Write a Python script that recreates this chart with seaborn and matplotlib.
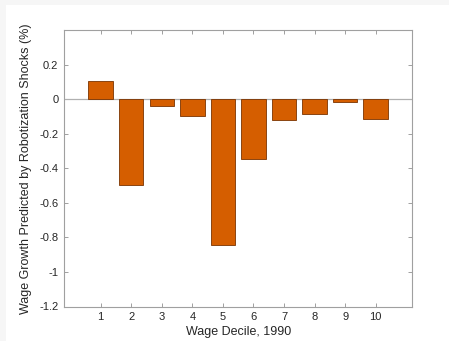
import matplotlib
matplotlib.use("Agg")
import matplotlib.pyplot as plt
import seaborn as sns
import pandas as pd
from matplotlib.patches import Rectangle

deciles = [1, 2, 3, 4, 5, 6, 7, 8, 9, 10]
growth = [0.107, -0.498, -0.038, -0.100, -0.843, -0.345, -0.118, -0.086, -0.014, -0.116]
yticks = [-1.2, -1.0, -0.8, -0.6, -0.4, -0.2, 0.0, 0.2]
ytick_labels = ["-1.2", "-1", "-0.8", "-0.6", "-0.4", "-0.2", "0", "0.2"]

sns.set_style("white")
plt.rcParams['font.family'] = ['Liberation Sans', 'DejaVu Sans']

fig = plt.figure(figsize=(4.49, 3.41), dpi=100, facecolor='#f6f6f6')
fig.patches.append(Rectangle((6/449, 0), 1, 1 - 5/341, transform=fig.transFigure,
                             facecolor='white', edgecolor='none', zorder=-10))
ax = fig.add_axes([64/449, 1 - 306.5/341, (412.3 - 64)/449, (306.5 - 30)/341])

df = pd.DataFrame({"decile": deciles, "growth": growth})
sns.barplot(data=df, x="decile", y="growth", native_scale=True, width=0.8,
            color="#D55E00", saturation=1, edgecolor="#7a3300", linewidth=0.6, ax=ax, zorder=3)

ax.axhline(0, color='#b0b0b0', lw=0.9, zorder=2)
ax.set_xlim(-0.2, 11.2)
ax.set_ylim(-1.2, 0.4)
ax.set_xticks(deciles)
ax.set_xticklabels([str(d) for d in deciles])
ax.set_yticks(yticks)
ax.set_yticklabels(ytick_labels)
ax.tick_params(direction='in', length=3, width=0.6, color='#909090', labelsize=8,
               labelcolor='#262626', top=True, right=True, bottom=True, left=True, pad=4)
for s in ax.spines.values():
    s.set_color('#a0a0a0')
    s.set_linewidth(0.8)
    s.set_visible(True)
ax.set_xlabel("Wage Decile, 1990", fontsize=9, color='#262626', labelpad=3)
ax.set_ylabel("Wage Growth Predicted by Robotization Shocks (%)", fontsize=9, color='#262626')
ax.yaxis.set_label_coords(-0.092, 0.5)

fig.savefig("out.png", dpi=100, facecolor=fig.get_facecolor())
